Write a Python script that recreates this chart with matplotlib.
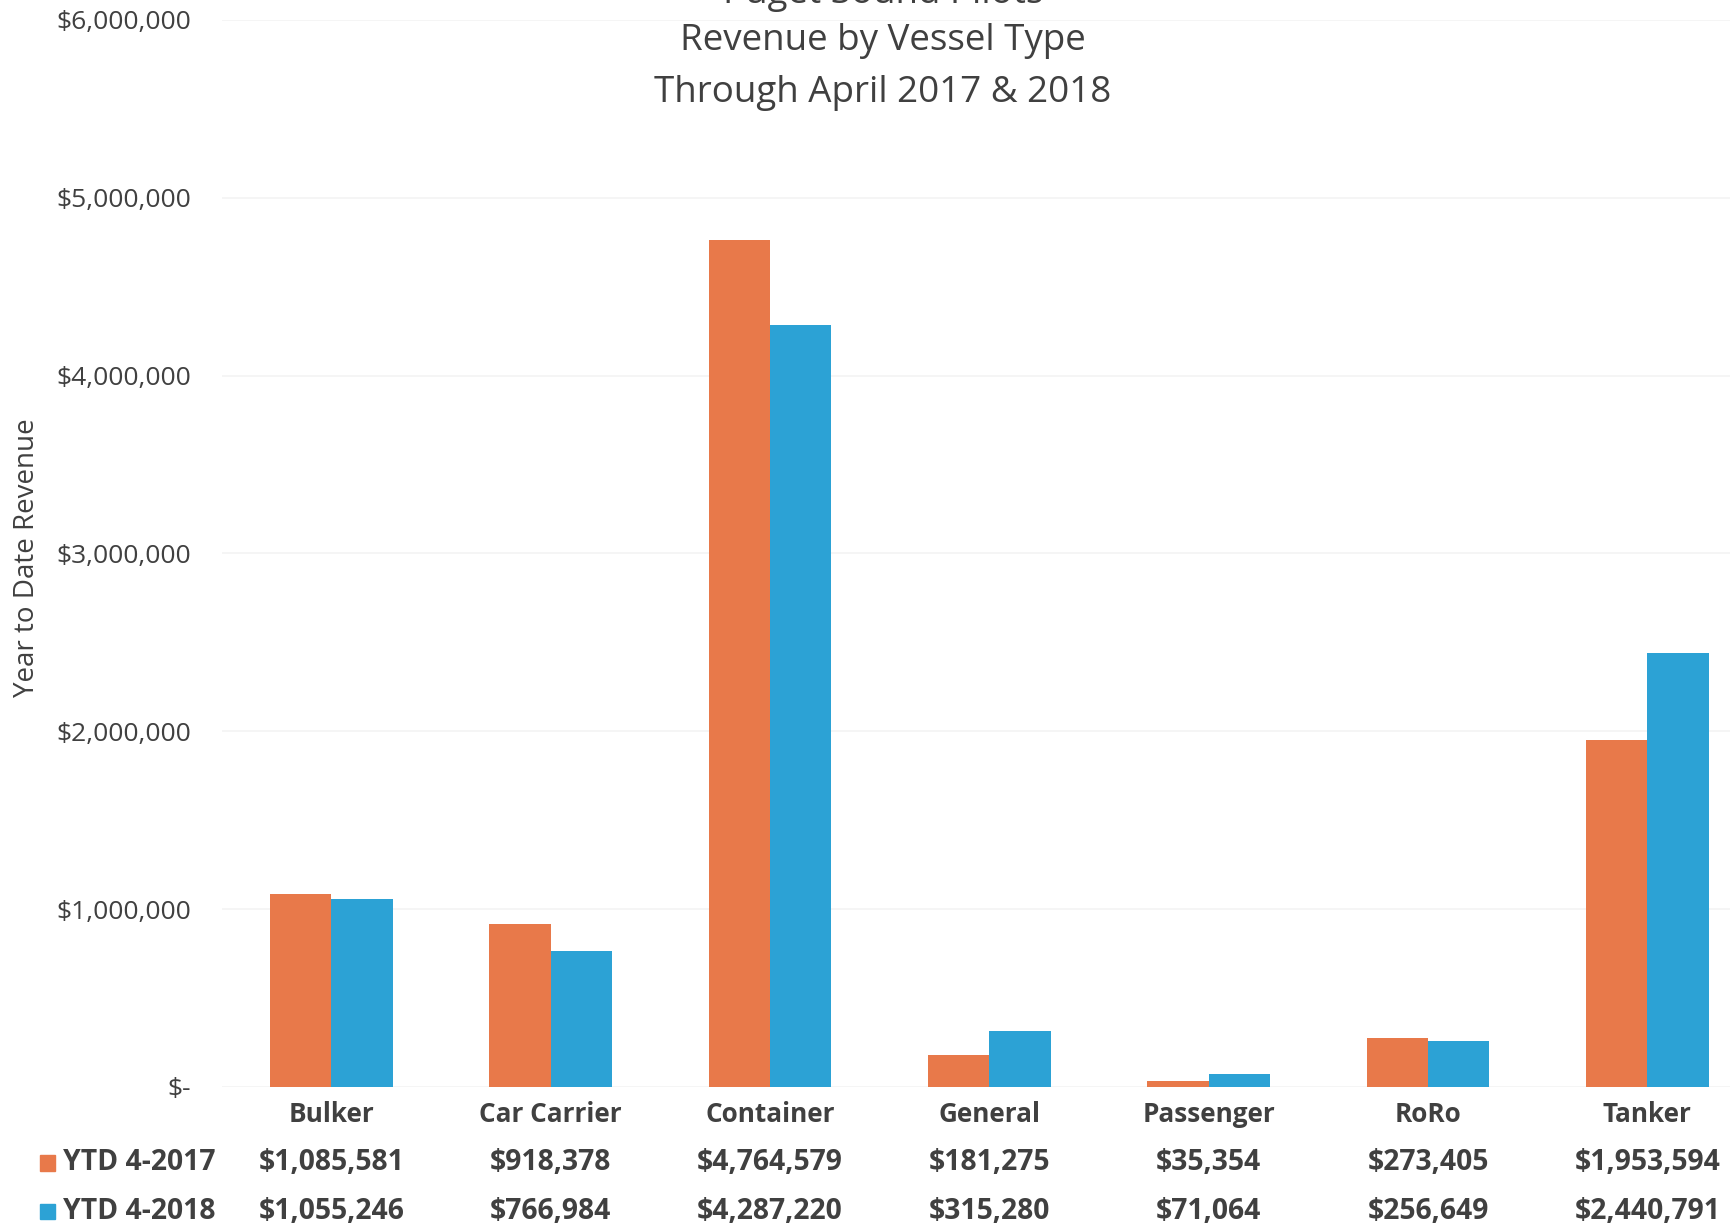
import matplotlib
matplotlib.use("Agg")
import matplotlib.pyplot as plt
import matplotlib.transforms as mtransforms
import numpy as np

# revenue by vessel type, YTD through April
categories = ["Bulker", "Car Carrier", "Container", "General", "Passenger", "RoRo", "Tanker"]
ytd_2017 = [1085581, 918378, 4764579, 181275, 35354, 273405, 1953594]
ytd_2018 = [1055246, 766984, 4287220, 315280, 71064, 256649, 2440791]
series_names = ["YTD 4-2017", "YTD 4-2018"]
yticks = [0, 1000000, 2000000, 3000000, 4000000, 5000000, 6000000]
ytick_labels = ["$-", "$1,000,000", "$2,000,000", "$3,000,000", "$4,000,000", "$5,000,000", "$6,000,000"]

orange = "#E8794A"
blue = "#2CA2D5"
text_col = "#404040"

plt.rcParams["font.family"] = ["Open Sans", "DejaVu Sans"]

fig = plt.figure(figsize=(17.31, 12.30), dpi=100)
ax = fig.add_axes([0.128, 0.1163, 0.887, 0.8675])

x = np.arange(len(categories))
w = 0.28
ax.bar(x - w / 2, ytd_2017, width=w, color=orange, zorder=2)
ax.bar(x + w / 2, ytd_2018, width=w, color=blue, zorder=2)

ax.set_xlim(-0.5, len(categories) - 0.5)
ax.set_ylim(0, 6000000)
ax.set_yticks(yticks)
ax.set_yticklabels(ytick_labels, fontsize=19, color=text_col)
ax.set_xticks([])
ax.tick_params(axis="y", length=0, pad=22)
ax.grid(axis="y", color="#f3f3f3", linewidth=1.2, zorder=0)
for s in ax.spines.values():
    s.set_visible(False)

fig.text(0.0155, 0.547, "Year to Date Revenue", rotation=90, fontsize=20,
         color=text_col, ha="center", va="center")

# titles (first line cut off at the top, as in the scan)
fig.text(0.51, 1.005, "Puget Sound Pilots", fontsize=26.5, color=text_col, ha="center", va="center")
fig.text(0.51, 0.9665, "Revenue by Vessel Type", fontsize=26.5, color=text_col, ha="center", va="center")
fig.text(0.51, 0.9245, "Through April 2017 & 2018", fontsize=26.5, color=text_col, ha="center", va="center")

# data table below the plot
trans = mtransforms.blended_transform_factory(ax.transData, fig.transFigure)
row_y = [0.0545, 0.0148]
for i, cat in enumerate(categories):
    ax.text(i, 0.0938, cat, transform=trans, ha="center", va="center",
            fontsize=18.8, fontweight="bold", color=text_col)
    ax.text(i, row_y[0], "${:,}".format(ytd_2017[i]), transform=trans, ha="center",
            va="center", fontsize=20.3, fontweight="bold", color=text_col)
    ax.text(i, row_y[1], "${:,}".format(ytd_2018[i]), transform=trans, ha="center",
            va="center", fontsize=20.3, fontweight="bold", color=text_col)

for yy, name, col in zip(row_y, series_names, [orange, blue]):
    fig.patches.append(plt.Rectangle((0.0231, yy - 0.0062), 0.0087, 0.0125,
                                     transform=fig.transFigure, color=col))
    fig.text(0.0364, yy, name, fontsize=20.3, fontweight="bold", color=text_col,
             ha="left", va="center")

fig.savefig("out.png", dpi=100)
